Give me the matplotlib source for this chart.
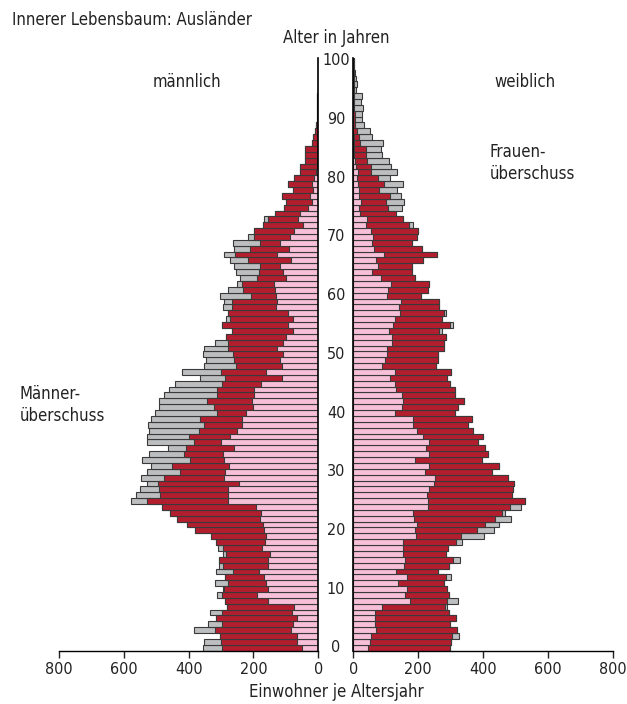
import matplotlib
matplotlib.use("Agg")
import matplotlib.pyplot as plt
import matplotlib.transforms as mtransforms
import numpy as np

plt.rcParams['font.family'] = ['DejaVu Sans']
plt.rcParams['font.stretch'] = 'condensed'

ages = np.arange(0, 101)

# Einwohner je Altersjahr, Ausländer (insgesamt)
male_total = [355, 352, 303, 382, 340, 317, 334, 281, 289, 314,
              295, 320, 287, 315, 306, 306, 295, 308, 315, 331,
              380, 405, 435, 458, 483, 579, 563, 550, 530, 548,
              528, 516, 545, 523, 465, 530, 530, 522, 525, 516,
              504, 492, 492, 476, 461, 442, 365, 422, 352, 348,
              357, 352, 319, 284, 265, 297, 286, 280, 295, 291,
              302, 280, 250, 242, 255, 259, 271, 291, 260, 262,
              218, 199, 170, 167, 134, 106, 100, 113, 79, 94,
              76, 56, 55, 41, 40, 40, 21, 17, 11, 6,
              4, 4, 3, 3, 3, 2, 2, 1, 1, 1, 1]
female_total = [298, 301, 326, 319, 298, 316, 296, 290, 321, 296,
                290, 279, 300, 262, 295, 328, 286, 293, 335, 402,
                433, 449, 485, 468, 518, 528, 489, 493, 495, 476,
                426, 450, 397, 415, 407, 385, 399, 369, 352, 366,
                312, 321, 342, 312, 314, 298, 288, 300, 254, 261,
                262, 280, 279, 284, 274, 308, 274, 285, 265, 265,
                208, 231, 234, 190, 182, 181, 216, 257, 211, 181,
                197, 198, 185, 154, 133, 151, 156, 147, 135, 152,
                113, 135, 116, 111, 87, 84, 92, 58, 51, 33,
                28, 26, 31, 24, 26, 8, 12, 7, 4, 3, 2]
# innerer Lebensbaum
male_inner = [51, 65, 67, 85, 77, 67, 82, 75, 154, 188,
              154, 162, 169, 184, 156, 156, 148, 175, 165, 162,
              168, 172, 180, 177, 193, 278, 280, 278, 245, 290,
              288, 277, 291, 293, 259, 300, 273, 252, 235, 235,
              224, 201, 204, 199, 199, 178, 113, 160, 113, 118,
              110, 126, 108, 100, 77, 93, 79, 95, 131, 129,
              131, 134, 137, 101, 108, 118, 85, 129, 90, 118,
              87, 74, 46, 62, 55, 31, 21, 26, 15, 19,
              12, 8, 5, 3, 2, 2, 1, 1, 0, 0,
              0, 0, 0, 0, 0, 0, 0, 0, 0, 0, 0]
female_inner = [46, 51, 55, 70, 67, 67, 67, 87, 175, 159,
                166, 139, 164, 131, 156, 159, 154, 154, 154, 192,
                190, 197, 188, 185, 231, 231, 226, 234, 248, 251,
                221, 233, 190, 233, 224, 234, 215, 195, 185, 185,
                128, 149, 154, 149, 131, 128, 113, 128, 87, 99,
                103, 103, 118, 118, 111, 121, 128, 144, 141, 146,
                103, 108, 115, 84, 59, 77, 69, 95, 64, 59,
                62, 53, 38, 43, 21, 18, 23, 18, 17, 15,
                12, 13, 7, 6, 2, 2, 1, 1, 0, 0,
                0, 0, 0, 0, 0, 0, 0, 0, 0, 0, 0]

xticks = [0, 200, 400, 600, 800]
age_ticks = list(range(0, 101, 10))

PINK = '#f7c0d8'
RED = '#b31e2f'
GRAY = '#bdbebf'
EDGE = '#3a3a3a'
TXT = '#222222'

common = np.minimum(male_total, female_total)

fig = plt.figure(figsize=(6.27, 7.04), dpi=100)
ax_l = fig.add_axes([0.0941, 0.0757, 0.4136, 0.842])
ax_r = fig.add_axes([0.5635, 0.0757, 0.4142, 0.842])

for ax, total, inner in [(ax_l, male_total, male_inner), (ax_r, female_total, female_inner)]:
    ax.barh(ages, total, height=1.0, color=GRAY, edgecolor=EDGE, linewidth=0.8)
    ax.barh(ages, common, height=1.0, color=RED, edgecolor=EDGE, linewidth=0.8)
    ax.barh(ages, inner, height=1.0, color=PINK, edgecolor=EDGE, linewidth=0.8)
    ax.set_ylim(-0.5, 100.5)
    ax.set_yticks([])
    ax.set_xticks(xticks)
    ax.tick_params(axis='x', direction='out', length=5, width=1, labelsize=11.5, pad=3, colors=TXT)
    ax.spines['top'].set_visible(False)
    ax.spines['bottom'].set_linewidth(1.0)
    ax.set_facecolor('none')

ax_l.set_xlim(800, 0)
ax_l.spines['left'].set_visible(False)
ax_l.spines['right'].set_linewidth(1.2)
ax_r.set_xlim(0, 800)
ax_r.spines['right'].set_visible(False)
ax_r.spines['left'].set_linewidth(1.2)

# age labels in the middle
trans = mtransforms.blended_transform_factory(fig.transFigure, ax_r.transData)
for a in age_ticks:
    fig.text(0.536, a, str(a), transform=trans, ha='center', va='center', fontsize=11.5, color=TXT)

fig.text(0.019, 0.972, 'Innerer Lebensbaum: Ausländer', ha='left', va='center', fontsize=12, color=TXT)
fig.text(0.536, 0.946, 'Alter in Jahren', ha='center', va='center', fontsize=12, color=TXT)
fig.text(0.298, 0.884, 'männlich', ha='center', va='center', fontsize=12, color=TXT)
fig.text(0.838, 0.884, 'weiblich', ha='center', va='center', fontsize=12, color=TXT)
fig.text(0.781, 0.768, 'Frauen-\nüberschuss', ha='left', va='center', fontsize=12, color=TXT, linespacing=1.3)
fig.text(0.031, 0.425, 'Männer-\nüberschuss', ha='left', va='center', fontsize=12, color=TXT, linespacing=1.3)
fig.text(0.536, 0.017, 'Einwohner je Altersjahr', ha='center', va='center', fontsize=12, color=TXT)

fig.savefig('out.png', dpi=100)
